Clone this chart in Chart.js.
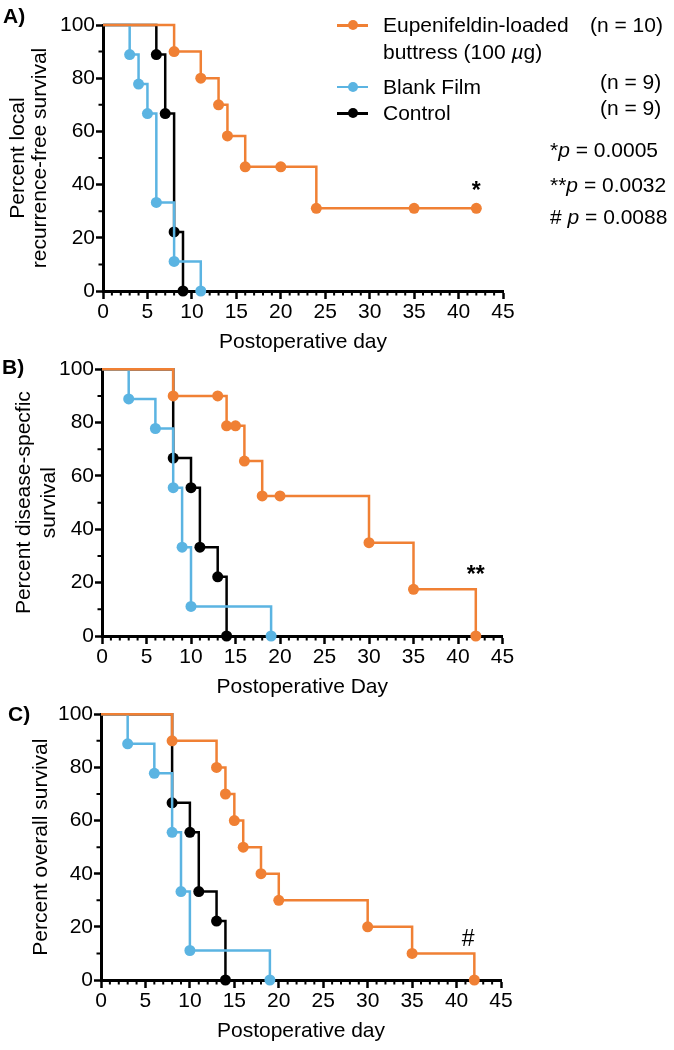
<!DOCTYPE html>
<html>
<head>
<meta charset="utf-8">
<script src="https://cdn.jsdelivr.net/npm/chart.js@4.4.1/dist/chart.umd.min.js"></script>
<style>
  body { margin: 0; background: #fff; font-family: 'Liberation Sans', Arial, sans-serif; }
  #page { position: relative; width: 674px; height: 1050px; overflow: hidden; }
  .panel { position: absolute; left: 0; }
  .txt { position: absolute; font-size: 21px; line-height: 24px; white-space: nowrap; color: #000; }
  .lbl { font-weight: bold; }
  .sym { position: absolute; left: 337px; width: 31px; height: 2.5px; }
  .sym span { position: absolute; left: 10.5px; top: -3.75px; width: 10px; height: 10px; border-radius: 50%; background: inherit; }
</style>
</head>
<body>
<div id="page">
  <canvas id="chartA" class="panel" width="674" height="355" style="top:0"></canvas>
  <canvas id="chartB" class="panel" width="674" height="345" style="top:355px"></canvas>
  <canvas id="chartC" class="panel" width="674" height="344" style="top:700px"></canvas>

  <div class="txt lbl" style="left:3px; top:4px">A)</div>
  <div class="txt lbl" style="left:2px; top:355px">B)</div>
  <div class="txt lbl" style="left:8px; top:702px">C)</div>

  <div class="sym" style="top:24px; background:#F08034"><span></span></div>
  <div class="sym" style="top:85.5px; background:#5BB4E2"><span></span></div>
  <div class="sym" style="top:112px; background:#000"><span></span></div>
  <div class="txt" style="left:383px; top:13px">Eupenifeldin-loaded</div>
  <div class="txt" style="left:383px; top:40px">buttress (100 <i>µ</i>g)</div>
  <div class="txt" style="left:590px; top:13px">(n = 10)</div>
  <div class="txt" style="left:383px; top:75px">Blank Film</div>
  <div class="txt" style="left:600px; top:70px">(n = 9)</div>
  <div class="txt" style="left:383px; top:101px">Control</div>
  <div class="txt" style="left:600px; top:96px">(n = 9)</div>
  <div class="txt" style="left:550px; top:138px">*<i>p</i> = 0.0005</div>
  <div class="txt" style="left:550px; top:173px">**<i>p</i> = 0.0032</div>
  <div class="txt" style="left:550px; top:205px"># <i>p</i> = 0.0088</div>
</div>
<script>
const orange = '#F08034';
const blue = '#5BB4E2';
const black = '#000000';

// A) local recurrence-free survival
const aEupDays = [0, 8, 11, 13, 14, 16, 20, 24, 35, 42];
const aEupPct = [100, 90, 80, 70, 58.3, 46.7, 46.7, 31.1, 31.1, 31.1];
const aBlankDays = [0, 3, 4, 5, 6, 8, 11];
const aBlankPct = [100, 88.9, 77.8, 66.7, 33.3, 11.1, 0];
const aCtrlDays = [0, 6, 7, 8, 9];
const aCtrlPct = [100, 88.9, 66.7, 22.2, 0];

// B) disease-specific survival
const bEupDays = [0, 8, 13, 14, 15, 16, 18, 20, 30, 35, 42];
const bEupPct = [100, 90, 90, 78.8, 78.8, 65.6, 52.5, 52.5, 35, 17.5, 0];
const bBlankDays = [0, 3, 6, 8, 9, 10, 19];
const bBlankPct = [100, 88.9, 77.8, 55.6, 33.3, 11.1, 0];
const bCtrlDays = [0, 8, 10, 11, 13, 14];
const bCtrlPct = [100, 66.7, 55.6, 33.3, 22.2, 0];

// C) overall survival
const cEupDays = [0, 8, 13, 14, 15, 16, 18, 20, 30, 35, 42];
const cEupPct = [100, 90, 80, 70, 60, 50, 40, 30, 20, 10, 0];
const cBlankDays = [0, 3, 6, 8, 9, 10, 19];
const cBlankPct = [100, 88.9, 77.8, 55.6, 33.3, 11.1, 0];
const cCtrlDays = [0, 8, 10, 11, 13, 14];
const cCtrlPct = [100, 66.7, 55.6, 33.3, 22.2, 0];

const groupLabels = ['Eupenifeldin-loaded buttress (100 µg)', 'Blank Film', 'Control'];
const sigText = ['*', '**', '#'];
const sigDay = [42, 42, 41.3];
const sigPct = [37.5, 22.5, 15];

Chart.defaults.font.family = "'Liberation Sans', Arial, sans-serif";
Chart.defaults.font.size = 21;
Chart.defaults.color = '#000';

// minor ticks + significance mark
const kmExtras = {
  id: 'kmExtras',
  beforeDatasetsDraw(chart) {
    const ctx = chart.ctx, xs = chart.scales.x, ys = chart.scales.y;
    ctx.save();
    ctx.strokeStyle = '#000';
    ctx.lineWidth = 2;
    ctx.beginPath();
    for (let d = xs.min; d <= xs.max; d++) {
      if (d % 5 === 0) continue;
      const px = xs.getPixelForValue(d);
      ctx.moveTo(px, ys.bottom);
      ctx.lineTo(px, ys.bottom + 4.5);
    }
    for (let v = ys.min + 10; v < ys.max; v += 20) {
      const py = ys.getPixelForValue(v);
      ctx.moveTo(xs.left, py);
      ctx.lineTo(xs.left - 4.5, py);
    }
    ctx.stroke();
    ctx.restore();
  },
  afterDatasetsDraw(chart, args, opts) {
    const m = opts.mark;
    if (!m) return;
    const ctx = chart.ctx;
    ctx.save();
    ctx.fillStyle = '#000';
    ctx.font = (m.text === '#' ? '' : 'bold ') + "23px 'Liberation Sans', Arial, sans-serif";
    ctx.textAlign = 'center';
    ctx.textBaseline = 'middle';
    ctx.fillText(m.text, chart.scales.x.getPixelForValue(m.x), chart.scales.y.getPixelForValue(m.y));
    ctx.restore();
  }
};

function buildChart(id, series, o) {
  return new Chart(document.getElementById(id), {
    type: 'line',
    data: {
      datasets: series.map((s, k) => ({
        label: groupLabels[k],
        data: s.days.map((d, i) => ({ x: d, y: s.pct[i] })),
        borderColor: s.color,
        backgroundColor: s.color,
        pointBackgroundColor: s.color,
        pointBorderColor: s.color,
        borderWidth: 2.5,
        stepped: true,
        fill: false,
        clip: false,
        pointRadius: c => c.dataIndex === 0 ? 0 : 5.5,
        pointHoverRadius: 5.5,
        pointBorderWidth: 0
      }))
    },
    options: {
      responsive: false,
      animation: false,
      devicePixelRatio: 1,
      events: [],
      layout: { padding: { top: o.top, right: 674 - o.right, left: 0, bottom: 0 } },
      scales: {
        x: {
          type: 'linear', min: 0, max: 45,
          ticks: { stepSize: 5, maxRotation: 0, autoSkip: false, padding: 1 },
          grid: { drawOnChartArea: false, color: '#000', tickLength: 8, tickWidth: 2.5 },
          border: { color: '#000', width: 3 },
          title: { display: true, text: o.xTitle, padding: 0 },
          afterFit: s => { s.height = 64; }
        },
        y: {
          min: 0, max: 100,
          ticks: { stepSize: 20, padding: 1 },
          grid: { drawOnChartArea: false, color: '#000', tickLength: 7, tickWidth: 2.5 },
          border: { color: '#000', width: 3 },
          title: { display: true, text: o.yTitle, font: { lineHeight: o.yLine }, padding: { top: o.yPad, bottom: 0 } },
          afterFit: s => { s.width = o.left; }
        }
      },
      plugins: {
        legend: { display: false },
        tooltip: { enabled: false },
        kmExtras: { mark: o.mark }
      }
    },
    plugins: [kmExtras]
  });
}

buildChart('chartA', [
  { days: aEupDays, pct: aEupPct, color: orange },
  { days: aBlankDays, pct: aBlankPct, color: blue },
  { days: aCtrlDays, pct: aCtrlPct, color: black }
], { top: 25, left: 103, right: 503, xTitle: 'Postoperative day',
     yTitle: ['Percent local', 'recurrence-free survival'], yLine: 1.05, yPad: 6.7,
     mark: { text: sigText[0], x: sigDay[0], y: sigPct[0] } });

buildChart('chartB', [
  { days: bEupDays, pct: bEupPct, color: orange },
  { days: bBlankDays, pct: bBlankPct, color: blue },
  { days: bCtrlDays, pct: bCtrlPct, color: black }
], { top: 14.3, left: 102, right: 502.5, xTitle: 'Postoperative Day',
     yTitle: ['Percent disease-specfic', 'survival'], yLine: 1.19, yPad: 11.7,
     mark: { text: sigText[1], x: sigDay[1], y: sigPct[1] } });

buildChart('chartC', [
  { days: cEupDays, pct: cEupPct, color: orange },
  { days: cBlankDays, pct: cBlankPct, color: blue },
  { days: cCtrlDays, pct: cCtrlPct, color: black }
], { top: 14.3, left: 101, right: 501, xTitle: 'Postoperative day',
     yTitle: 'Percent overall survival', yLine: 1.2, yPad: 29,
     mark: { text: sigText[2], x: sigDay[2], y: sigPct[2] } });
</script>
</body>
</html>
